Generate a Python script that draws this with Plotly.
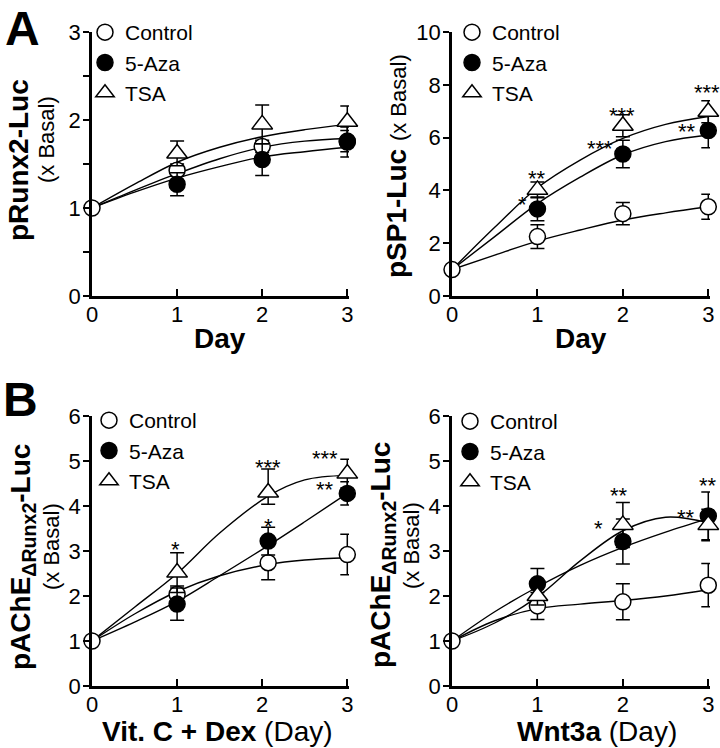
import plotly.graph_objects as go

FONT = "Liberation Sans, Arial, sans-serif"
W, H = 720, 748

# ---------------- data ----------------
days = [0, 1, 2, 3]
days_b1 = [0, 1, 2.07, 3]
fit_days = [0, 0.5, 1, 1.5, 2, 2.5, 3]
fit_days_b1 = [0, 0.5, 1, 1.5, 2.07, 2.5, 3]
series_names = ["Control", "5-Aza", "TSA"]

# Panel A left: pRunx2-Luc
a1_control = [1, 1.43, 1.70, 1.76]
a1_control_err = [0, 0.07, 0.07, 0.12]
a1_aza = [1, 1.27, 1.55, 1.75]
a1_aza_err = [0, 0.13, 0.18, 0.17]
a1_tsa = [1, 1.62, 1.95, 1.98]
a1_tsa_err = [0, 0.14, 0.22, 0.18]
a1_control_fit = [1, 1.20, 1.39, 1.56, 1.69, 1.76, 1.79]
a1_aza_fit = [1, 1.18, 1.34, 1.47, 1.58, 1.64, 1.69]
a1_tsa_fit = [1, 1.27, 1.52, 1.69, 1.81, 1.89, 1.95]

# Panel A right: pSP1-Luc
a2_control = [1, 2.25, 3.12, 3.38]
a2_control_err = [0, 0.45, 0.42, 0.47]
a2_aza = [1, 3.30, 5.38, 6.27]
a2_aza_err = [0, 0.45, 0.52, 0.65]
a2_tsa = [1, 4.02, 6.45, 6.98]
a2_tsa_err = [0, 0.30, 0.42, 0.42]
a2_control_fit = [1, 1.55, 2.08, 2.50, 2.88, 3.15, 3.38]
a2_aza_fit = [1, 2.25, 3.50, 4.50, 5.35, 5.85, 6.10]
a2_tsa_fit = [1, 2.60, 4.10, 5.15, 5.97, 6.50, 6.80]
a2_sig_text = ["**", "*", "***", "***", "***", "**"]
a2_sig_x = [1.0, 0.82, 1.99, 1.73, 2.98, 2.75]
a2_sig_y = [4.66, 3.71, 7.08, 5.80, 7.92, 6.44]

# Panel B left: pAChE-dRunx2-Luc, Vit. C + Dex
b1_control = [1, 2.04, 2.74, 2.92]
b1_control_err = [0, 0.18, 0.38, 0.45]
b1_aza = [1, 1.82, 3.22, 4.28]
b1_aza_err = [0, 0.36, 0.31, 0.26]
b1_tsa = [1, 2.52, 4.30, 4.72]
b1_tsa_err = [0, 0.44, 0.52, 0.32]
b1_tsa_err_minus = [0, 0.44, 0.26, 0.32]
b1_control_fit = [1, 1.60, 2.10, 2.45, 2.70, 2.80, 2.85]
b1_aza_fit = [1, 1.42, 1.88, 2.45, 3.12, 3.65, 4.28]
b1_tsa_fit = [1, 1.75, 2.50, 3.40, 4.22, 4.58, 4.68]
b1_sig_text = ["*", "***", "*", "***", "**"]
b1_sig_x = [0.98, 2.07, 2.07, 2.74, 2.74]
b1_sig_y = [3.16, 4.98, 3.67, 5.20, 4.51]

# Panel B right: pAChE-dRunx2-Luc, Wnt3a
b2_control = [1, 1.78, 1.87, 2.24]
b2_control_err = [0, 0.30, 0.40, 0.48]
b2_aza = [1, 2.27, 3.21, 3.78]
b2_aza_err = [0, 0.34, 0.50, 0.53]
b2_tsa = [1, 2.00, 3.58, 3.58]
b2_tsa_err = [0, 0.20, 0.50, 0.35]
b2_control_fit = [1, 1.45, 1.72, 1.82, 1.90, 2.00, 2.14]
b2_aza_fit = [1, 1.65, 2.20, 2.68, 3.08, 3.42, 3.72]
b2_tsa_fit = [1, 1.40, 1.98, 2.78, 3.45, 3.75, 3.63]
b2_sig_text = ["*", "**", "**", "**"]
b2_sig_x = [1.72, 1.96, 2.74, 3.0]
b2_sig_y = [3.64, 4.36, 3.87, 4.60]

# ---------------- figure ----------------
fig = go.Figure()

styles = {
    "Control": dict(symbol="circle", color="white", size=16),
    "5-Aza": dict(symbol="circle", color="black", size=16),
    "TSA": dict(symbol="triangle-up", color="white", size=18),
}


def add_panel(idx, xs, fxs, vals, errs, fits, legend_name, errs_minus=None):
    xa = "x" if idx == 1 else f"x{idx}"
    ya = "y" if idx == 1 else f"y{idx}"
    for f in fits:
        fig.add_trace(go.Scatter(x=fxs, y=f, mode="lines", xaxis=xa, yaxis=ya,
                                 line=dict(color="black", width=1.4, shape="spline", smoothing=1.0),
                                 showlegend=False, hoverinfo="skip", cliponaxis=False))
    for k, name in enumerate(series_names):
        st = styles[name]
        start = 0 if name == "Control" else 1
        ey = dict(type="data", array=errs[k][start:], color="black", thickness=1.5, width=7)
        if errs_minus is not None and errs_minus[k] is not None:
            ey["symmetric"] = False
            ey["arrayminus"] = errs_minus[k][start:]
        fig.add_trace(go.Scatter(
            x=xs[start:], y=vals[k][start:], mode="markers", name=name,
            xaxis=xa, yaxis=ya, legend=legend_name, cliponaxis=False,
            marker=dict(symbol=st["symbol"], size=st["size"], color=st["color"],
                        line=dict(color="black", width=1.5)),
            error_y=ey))


add_panel(1, days, fit_days, [a1_control, a1_aza, a1_tsa],
          [a1_control_err, a1_aza_err, a1_tsa_err],
          [a1_control_fit, a1_aza_fit, a1_tsa_fit], "legend")
add_panel(2, days, fit_days, [a2_control, a2_aza, a2_tsa],
          [a2_control_err, a2_aza_err, a2_tsa_err],
          [a2_control_fit, a2_aza_fit, a2_tsa_fit], "legend2")
add_panel(3, days_b1, fit_days_b1, [b1_control, b1_aza, b1_tsa],
          [b1_control_err, b1_aza_err, b1_tsa_err],
          [b1_control_fit, b1_aza_fit, b1_tsa_fit], "legend3",
          errs_minus=[None, None, b1_tsa_err_minus])
add_panel(4, days, fit_days, [b2_control, b2_aza, b2_tsa],
          [b2_control_err, b2_aza_err, b2_tsa_err],
          [b2_control_fit, b2_aza_fit, b2_tsa_fit], "legend4")


def px_x(p):
    return p / W


def px_y(p):
    return 1 - p / H


def xaxis(x0, x1, anchor):
    return dict(domain=[px_x(x0), px_x(x1)], range=[0, 3.02], anchor=anchor, automargin=False,
                tickvals=days, ticks="inside", ticklen=7, tickwidth=2, tickcolor="black",
                ticklabelstandoff=-3,
                showline=True, linewidth=2.5, linecolor="black", showgrid=False, zeroline=False,
                tickfont=dict(family=FONT, size=22, color="black"))


def yaxis(y0, y1, top, dtick, anchor, minor=None):
    d = dict(domain=[px_y(y1), px_y(y0)], range=[0, top], anchor=anchor, dtick=dtick,
             automargin=False, ticks="outside", ticklen=6, tickwidth=2, tickcolor="black",
             ticklabelstandoff=-2,
             showline=True, linewidth=2.5, linecolor="black", showgrid=False, zeroline=False,
             tickfont=dict(family=FONT, size=22, color="black"))
    if minor:
        d["minor"] = dict(dtick=minor, ticks="outside", ticklen=6, tickwidth=2, tickcolor="black",
                          showgrid=False)
    return d


fig.update_layout(
    width=W, height=H, margin=dict(l=0, r=0, t=0, b=0, autoexpand=False),
    paper_bgcolor="white", plot_bgcolor="white",
    font=dict(family=FONT, color="black"),
    xaxis=xaxis(92, 349, "y"), yaxis=yaxis(32, 296, 3, 1, "x", minor=0.5),
    xaxis2=xaxis(452, 710, "y2"), yaxis2=yaxis(32, 296, 10, 2, "x2"),
    xaxis3=xaxis(92, 349, "y3"), yaxis3=yaxis(416, 686, 6, 1, "x3"),
    xaxis4=xaxis(452, 710, "y4"), yaxis4=yaxis(416, 686, 6, 1, "x4"),
)

leg_common = dict(xanchor="left", yanchor="top", bgcolor="rgba(0,0,0,0)",
                  font=dict(family=FONT, size=21, color="black"), tracegroupgap=0,
                  itemwidth=30)
fig.update_layout(
    legend=dict(x=px_x(85), y=px_y(12), **leg_common),
    legend2=dict(x=px_x(452), y=px_y(12), **leg_common),
    legend3=dict(x=px_x(89), y=px_y(400), **leg_common),
    legend4=dict(x=px_x(450), y=px_y(401), **leg_common),
)

ann = []


def text_ann(x, y, text, size, angle=0):
    ann.append(dict(x=px_x(x), y=px_y(y), xref="paper", yref="paper", text=text,
                    showarrow=False, textangle=angle, xanchor="center", yanchor="middle",
                    font=dict(family=FONT, size=size, color="black")))


# panel letters
text_ann(22, 28, "<b>A</b>", 48)
text_ann(20, 399, "<b>B</b>", 48)

# y titles
text_ann(19, 160, "<b>pRunx2-Luc</b>", 28, angle=-90)
text_ann(47, 140, "(x Basal)", 22, angle=-90)
text_ann(396, 166, "<b>pSP1-Luc</b> <span style='font-size:22px'>(x Basal)</span>", 28, angle=-90)
text_ann(22, 557, "<b>pAChE<sub>ΔRunx2</sub>-Luc</b>", 28, angle=-90)
text_ann(51, 547, "(x Basal)", 22, angle=-90)
text_ann(382, 555, "<b>pAChE<sub>ΔRunx2</sub>-Luc</b>", 28, angle=-90)
text_ann(411, 546, "(x Basal)", 22, angle=-90)

# x titles
text_ann(220, 338, "<b>Day</b>", 28)
text_ann(581, 338, "<b>Day</b>", 28)
text_ann(217, 731, "<b>Vit. C + Dex</b> (Day)", 28)
text_ann(597, 731, "<b>Wnt3a</b> (Day)", 28)

# significance marks (data coordinates)
for xr, yr, txts, xs_, ys_ in [("x2", "y2", a2_sig_text, a2_sig_x, a2_sig_y),
                                ("x3", "y3", b1_sig_text, b1_sig_x, b1_sig_y),
                                ("x4", "y4", b2_sig_text, b2_sig_x, b2_sig_y)]:
    for t, sx, sy in zip(txts, xs_, ys_):
        ann.append(dict(x=sx, y=sy, xref=xr, yref=yr, text=t, showarrow=False,
                        xanchor="center", yanchor="middle", yshift=-6,
                        font=dict(family=FONT, size=22, color="black")))

fig.update_layout(annotations=ann)

fig.write_html("out.html", config={"displayModeBar": False},
               post_script="document.body.style.margin='0px';document.body.style.overflow='hidden';")
